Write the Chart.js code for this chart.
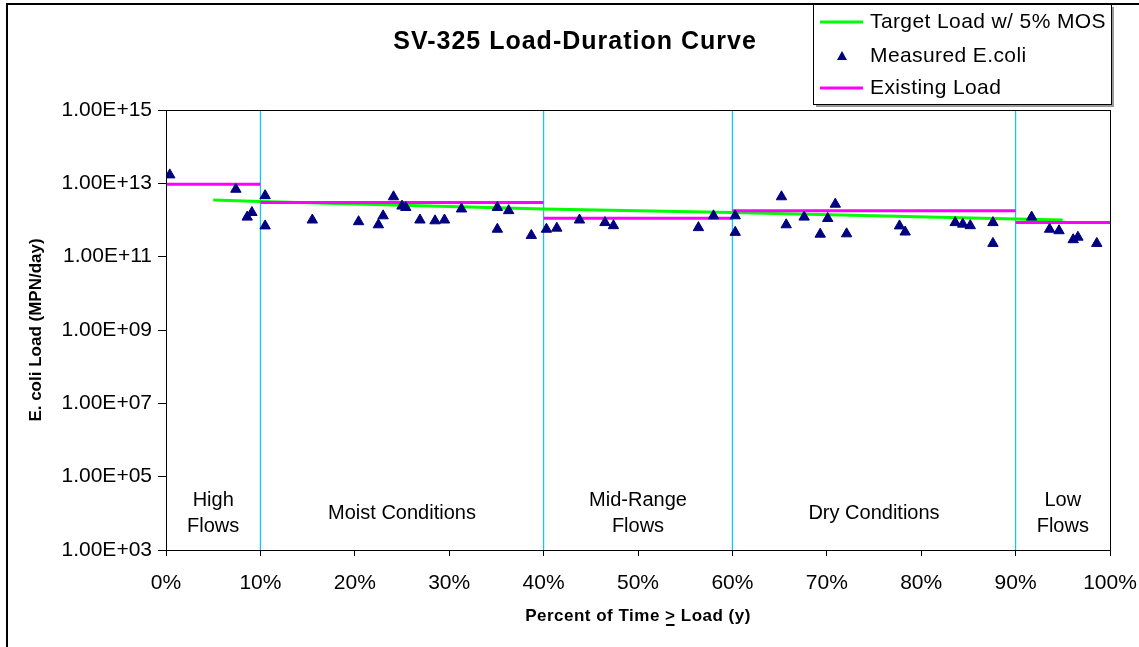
<!DOCTYPE html>
<html>
<head>
<meta charset="utf-8">
<title>SV-325 Load-Duration Curve</title>
<script src="https://cdn.jsdelivr.net/npm/chart.js@4.4.0/dist/chart.umd.min.js"></script>
<style>
    html, body { margin: 0; padding: 0; background: #fff; }
    #wrap { width: 1139px; height: 647px; }
</style>
</head>
<body>
<div id="wrap"><canvas id="ldc" width="1139" height="647"></canvas></div>
<script>
// Load-duration curve for SV-325
const FONT = '"Liberation Sans", Arial, sans-serif';

const chartTitle = 'SV-325 Load-Duration Curve';
const yTitle = 'E. coli Load (MPN/day)';
const xTitleParts = ['Percent of Time ', '>', ' Load (y)'];

// x ticks (percent) and y ticks (log decades)
const xTicks = [0, 10, 20, 30, 40, 50, 60, 70, 80, 90, 100];
const yTicks = [1e3, 1e5, 1e7, 1e9, 1e11, 1e13, 1e15];

// measured E.coli samples
const measuredPct = [0.4, 7.4, 8.6, 9.1, 10.5, 10.5, 15.5, 20.4, 22.5, 23.0,
    24.1, 25.0, 25.4, 26.9, 28.5, 29.5, 31.3, 35.1, 35.1, 36.3,
    38.7, 40.3, 41.4, 43.8, 46.5, 47.4, 56.4, 58.0, 60.3, 60.3,
    65.2, 65.7, 67.6, 69.3, 70.1, 70.9, 72.1, 77.7, 78.3, 83.6,
    84.4, 85.2, 87.6, 87.6, 91.7, 93.6, 94.6, 96.1, 96.6, 98.6];
const measuredLoad = [1.7e13, 6.9e12, 1.2e12, 1.6e12, 4.6e12, 6.9e11, 1.0e12, 9.0e11, 7.4e11, 1.3e12,
    4.3e12, 2.4e12, 2.2e12, 1.0e12, 9.5e11, 1.0e12, 2.0e12, 2.2e12, 5.6e11, 1.8e12,
    3.8e11, 5.6e11, 6.0e11, 1.0e12, 8.5e11, 7.0e11, 6.2e11, 1.3e12, 1.3e12, 4.6e11,
    4.3e12, 7.4e11, 1.2e12, 4.1e11, 1.1e12, 2.7e12, 4.2e11, 6.9e11, 4.7e11, 8.5e11,
    7.7e11, 7.0e11, 8.5e11, 2.3e11, 1.2e12, 5.6e11, 5.1e11, 2.9e11, 3.4e11, 2.3e11];

// target load w/ 5% MOS
const targetPct = [5, 10, 40, 60, 90, 95];
const targetLoad = [3.5e12, 3.2e12, 2.0e12, 1.6e12, 1.07e12, 1.0e12];

// existing load, one flat segment per flow zone
const existingStart = [0, 10, 40, 60, 90];
const existingEnd = [10, 40, 60, 90, 100];
const existingLoad = [9.5e12, 3.0e12, 1.12e12, 1.8e12, 8.5e11];

// flow zones
const zoneDividers = [10, 40, 60, 90];
const zoneCenters = [5, 25, 50, 75, 95];
const zoneLabels = [['High', 'Flows'], ['Moist Conditions'], ['Mid-Range', 'Flows'], ['Dry Conditions'], ['Low', 'Flows']];

function sciLabel(v) {
    const exp = Math.round(Math.log10(v));
    const mant = v / Math.pow(10, exp);
    const e = String(Math.abs(exp)).padStart(2, '0');
    return mant.toFixed(2) + 'E' + (exp < 0 ? '-' : '+') + e;
}

function segmentsWithGaps(starts, ends, values) {
    const pts = [];
    starts.forEach((s, i) => {
        if (i > 0) pts.push({ x: s, y: null });
        pts.push({ x: s, y: values[i] });
        pts.push({ x: ends[i], y: values[i] });
    });
    return pts;
}

const dividerPoints = [];
zoneDividers.forEach((d, i) => {
    if (i > 0) dividerPoints.push({ x: d, y: null });
    dividerPoints.push({ x: d, y: yTicks[0] });
    dividerPoints.push({ x: d, y: yTicks[yTicks.length - 1] });
});

const decorations = {
    id: 'decorations',
    beforeDraw(chart) {
        const ctx = chart.ctx;
        ctx.save();
        ctx.fillStyle = '#fff';
        ctx.fillRect(0, 0, chart.width, chart.height);
        // outer frame
        ctx.strokeStyle = '#000';
        ctx.lineWidth = 2;
        ctx.beginPath();
        ctx.moveTo(7, chart.height);
        ctx.lineTo(7, 4);
        ctx.lineTo(chart.width, 4);
        ctx.stroke();
        ctx.restore();
    },
    afterDatasetsDraw(chart) {
        const ctx = chart.ctx;
        const a = chart.chartArea;
        ctx.save();
        ctx.strokeStyle = '#000';
        ctx.lineWidth = 1;
        ctx.strokeRect(Math.round(a.left) + 0.5, Math.round(a.top) + 0.5,
            Math.round(a.right - a.left), Math.round(a.bottom - a.top));
        ctx.restore();
    },
    afterDraw(chart) {
        const ctx = chart.ctx;
        const a = chart.chartArea;
        const xs = chart.scales.x;
        ctx.save();
        ctx.fillStyle = '#000';
        ctx.textBaseline = 'middle';

        // chart title
        ctx.font = 'bold 25px ' + FONT;
        ctx.letterSpacing = '1px';
        ctx.textAlign = 'center';
        ctx.fillText(chartTitle, 575, 42);
        ctx.letterSpacing = '0px';

        // zone labels
        ctx.font = '20px ' + FONT;
        zoneLabels.forEach((lines, i) => {
            const cx = xs.getPixelForValue(zoneCenters[i]);
            if (lines.length === 2) {
                ctx.fillText(lines[0], cx, a.bottom - 50);
                ctx.fillText(lines[1], cx, a.bottom - 24);
            } else {
                ctx.fillText(lines[0], cx, a.bottom - 37);
            }
        });

        // y axis title
        ctx.font = 'bold 17px ' + FONT;
        ctx.save();
        ctx.translate(36, (a.top + a.bottom) / 2);
        ctx.rotate(-Math.PI / 2);
        ctx.fillText(yTitle, 0, 0);
        ctx.restore();

        // x axis title with underlined ">"
        ctx.letterSpacing = '0.5px';
        const widths = xTitleParts.map(t => ctx.measureText(t).width);
        const total = widths.reduce((s, w) => s + w, 0);
        let tx = (a.left + a.right) / 2 - total / 2;
        const ty = 616;
        ctx.textAlign = 'left';
        xTitleParts.forEach((t, i) => {
            ctx.fillText(t, tx, ty);
            if (i === 1) {
                ctx.fillRect(tx + 1, ty + 8, widths[i] - 2, 2);
            }
            tx += widths[i];
        });
        ctx.letterSpacing = '0px';

        // legend
        const lx = 813, ly = 4, lw = 298, lh = 100;
        ctx.fillStyle = '#999';
        ctx.fillRect(lx + 3, ly + lh + 1, lw, 2);
        ctx.fillRect(lx + lw + 1, ly + 3, 2, lh);
        ctx.fillStyle = '#fff';
        ctx.fillRect(lx, ly, lw, lh);
        ctx.strokeStyle = '#000';
        ctx.lineWidth = 1;
        ctx.strokeRect(lx + 0.5, ly + 0.5, lw, lh);

        const rows = [22, 56, 88];
        const ds = chart.data.datasets;
        ctx.font = '21px ' + FONT;
        ctx.letterSpacing = '0.4px';
        ctx.textAlign = 'left';
        [0, 1, 2].forEach((di, r) => {
            const d = ds[di];
            const y = rows[r];
            if (d.showLine) {
                ctx.strokeStyle = d.borderColor;
                ctx.lineWidth = 3;
                ctx.beginPath();
                ctx.moveTo(820, y);
                ctx.lineTo(863, y);
                ctx.stroke();
            } else {
                ctx.fillStyle = d.backgroundColor;
                ctx.beginPath();
                ctx.moveTo(842, y - 5);
                ctx.lineTo(847, y + 4);
                ctx.lineTo(837, y + 4);
                ctx.closePath();
                ctx.fill();
            }
            ctx.fillStyle = '#000';
            ctx.fillText(d.label, 870, y);
        });
        ctx.restore();
    }
};

Chart.defaults.font.family = FONT;
Chart.defaults.color = '#000';

const ctx = document.getElementById('ldc').getContext('2d');
new Chart(ctx, {
    type: 'scatter',
    data: {
        datasets: [
            {
                label: 'Target Load w/ 5% MOS',
                data: targetPct.map((x, i) => ({ x: x, y: targetLoad[i] })),
                showLine: true,
                borderColor: '#00FF00',
                backgroundColor: '#00FF00',
                borderWidth: 3,
                pointRadius: 0,
                order: 2
            },
            {
                label: 'Measured E.coli',
                data: measuredPct.map((x, i) => ({ x: x, y: measuredLoad[i] })),
                showLine: false,
                pointStyle: 'triangle',
                pointRadius: 6,
                backgroundColor: '#000080',
                borderColor: '#000080',
                borderWidth: 1,
                order: 0
            },
            {
                label: 'Existing Load',
                data: segmentsWithGaps(existingStart, existingEnd, existingLoad),
                showLine: true,
                spanGaps: false,
                borderColor: '#FF00FF',
                backgroundColor: '#FF00FF',
                borderWidth: 3,
                pointRadius: 0,
                order: 1
            },
            {
                label: 'Zones',
                data: dividerPoints,
                showLine: true,
                spanGaps: false,
                borderColor: '#00CCFF',
                borderWidth: 1.2,
                pointRadius: 0,
                order: 3
            }
        ]
    },
    options: {
        responsive: false,
        animation: false,
        events: [],
        layout: { padding: { top: 110, right: 29, left: 0, bottom: 0 } },
        plugins: {
            legend: { display: false },
            title: { display: false },
            tooltip: { enabled: false }
        },
        scales: {
            x: {
                type: 'linear',
                min: 0,
                max: 100,
                afterBuildTicks: (scale) => { scale.ticks = xTicks.map(v => ({ value: v })); },
                afterFit: (scale) => {
                    scale.height = 97;
                    scale.paddingLeft = 0;
                    scale.paddingRight = 0;
                },
                ticks: {
                    autoSkip: false,
                    maxRotation: 0,
                    padding: 15,
                    font: { size: 21 },
                    callback: (v) => v + '%'
                },
                grid: { drawOnChartArea: false, drawTicks: true, tickLength: 6, color: '#000' },
                border: { display: true, color: '#000', width: 1 }
            },
            y: {
                type: 'logarithmic',
                min: yTicks[0],
                max: yTicks[yTicks.length - 1],
                afterBuildTicks: (scale) => { scale.ticks = yTicks.map(v => ({ value: v })); },
                afterFit: (scale) => {
                    scale.width = 166;
                    scale.paddingTop = 0;
                    scale.paddingBottom = 0;
                },
                ticks: {
                    autoSkip: false,
                    padding: 6,
                    font: { size: 21 },
                    callback: (v) => sciLabel(v)
                },
                grid: { drawOnChartArea: false, drawTicks: true, tickLength: 8, color: '#000' },
                border: { display: true, color: '#000', width: 1 }
            }
        }
    },
    plugins: [decorations]
});
</script>
</body>
</html>
